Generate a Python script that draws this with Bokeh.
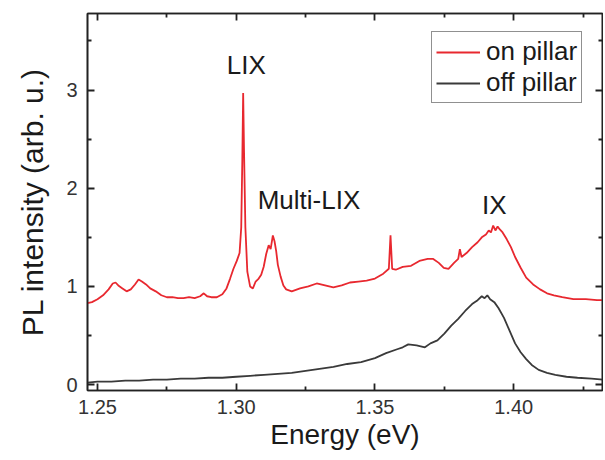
from bokeh.plotting import figure
from bokeh.models import (Range1d, FixedTicker, LinearAxis, Legend, LegendItem,
                          NumeralTickFormatter, ColumnDataSource)
from bokeh.core.properties import value
from bokeh.embed import file_html
from bokeh.resources import INLINE

FONT = "Liberation Sans"

# ---- data ----
on_x = [1.2464, 1.2480, 1.2500, 1.2520, 1.2540, 1.2555, 1.2565, 1.2575, 1.2590, 1.2605,
        1.2620, 1.2635, 1.2648, 1.2660, 1.2675, 1.2690, 1.2710, 1.2730, 1.2750, 1.2770,
        1.2790, 1.2810, 1.2830, 1.2850, 1.2870, 1.2883, 1.2895, 1.2910, 1.2930, 1.2950,
        1.2965, 1.2978, 1.2990, 1.3002, 1.3012, 1.3018, 1.3022, 1.3025, 1.3028, 1.3033,
        1.3040, 1.3050, 1.3060, 1.3070, 1.3081, 1.3090, 1.3099, 1.3108, 1.3117, 1.3124,
        1.3132, 1.3138, 1.3144, 1.3150, 1.3160, 1.3170, 1.3180, 1.3200, 1.3230, 1.3260,
        1.3290, 1.3320, 1.3350, 1.3380, 1.3410, 1.3440, 1.3470, 1.3500, 1.3530, 1.3550,
        1.3556, 1.3562, 1.3575, 1.3600, 1.3630, 1.3660, 1.3690, 1.3710, 1.3730, 1.3748,
        1.3765, 1.3785, 1.3800, 1.3806, 1.3812, 1.3830, 1.3850, 1.3870, 1.3885, 1.3900,
        1.3910, 1.3918, 1.3926, 1.3934, 1.3942, 1.3950, 1.3960, 1.3975, 1.3990, 1.4005,
        1.4025, 1.4045, 1.4070, 1.4095, 1.4120, 1.4145, 1.4175, 1.4215, 1.4260, 1.4300,
        1.4330]
on_y = [0.83, 0.84, 0.87, 0.91, 0.97, 1.03, 1.04, 1.01, 0.98, 0.95,
        0.97, 1.02, 1.07, 1.05, 1.02, 0.98, 0.95, 0.91, 0.89, 0.89,
        0.88, 0.88, 0.89, 0.88, 0.90, 0.93, 0.90, 0.89, 0.89, 0.92,
        0.98, 1.08, 1.18, 1.26, 1.34, 1.60, 2.30, 2.97, 2.40, 1.60,
        1.15, 1.00, 0.98, 1.05, 1.08, 1.12, 1.20, 1.33, 1.42, 1.38,
        1.52, 1.46, 1.36, 1.22, 1.10, 1.01, 0.97, 0.95, 0.98, 1.00,
        1.03, 1.01, 0.99, 1.01, 1.04, 1.05, 1.06, 1.08, 1.13, 1.18,
        1.52, 1.18, 1.17, 1.20, 1.21, 1.26, 1.28, 1.28, 1.24, 1.19,
        1.18, 1.24, 1.28, 1.38, 1.30, 1.34, 1.40, 1.45, 1.50, 1.53,
        1.57, 1.55, 1.62, 1.57, 1.61, 1.58, 1.55, 1.48, 1.40, 1.30,
        1.19, 1.09, 1.02, 0.97, 0.93, 0.91, 0.89, 0.87, 0.87, 0.86,
        0.86]

off_x = [1.2464, 1.2500, 1.2550, 1.2600, 1.2650, 1.2700, 1.2750, 1.2800, 1.2850, 1.2900,
         1.2950, 1.3000, 1.3050, 1.3100, 1.3150, 1.3200, 1.3250, 1.3300, 1.3350, 1.3400,
         1.3450, 1.3500, 1.3540, 1.3580, 1.3600, 1.3620, 1.3650, 1.3680, 1.3700, 1.3725,
         1.3750, 1.3775, 1.3800, 1.3825, 1.3850, 1.3870, 1.3885, 1.3895, 1.3905, 1.3915,
         1.3930, 1.3945, 1.3965, 1.3985, 1.4005, 1.4025, 1.4045, 1.4065, 1.4090, 1.4120,
         1.4150, 1.4190, 1.4230, 1.4280, 1.4330]
off_y = [0.02, 0.03, 0.03, 0.04, 0.04, 0.05, 0.05, 0.06, 0.06, 0.07,
         0.07, 0.08, 0.09, 0.10, 0.11, 0.12, 0.14, 0.16, 0.18, 0.21,
         0.23, 0.27, 0.32, 0.36, 0.38, 0.41, 0.40, 0.38, 0.42, 0.45,
         0.52, 0.60, 0.67, 0.75, 0.82, 0.86, 0.90, 0.88, 0.91, 0.87,
         0.84, 0.78, 0.68, 0.55, 0.42, 0.33, 0.26, 0.20, 0.15, 0.12,
         0.10, 0.08, 0.07, 0.06, 0.05]

series_labels = ["on pillar", "off pillar"]
series_colors = ["#e8282f", "#3a3a3a"]

ann_x = [1.3036, 1.3262, 1.3930]
ann_y = [3.26, 1.88, 1.83]
ann_text = ["LIX", "Multi-LIX", "IX"]

x_ticks = [1.25, 1.30, 1.35, 1.40]
x_minor = [1.275, 1.325, 1.375, 1.425]
y_ticks = [0, 1, 2, 3]
y_minor = [0.5, 1.5, 2.5, 3.5]

# ---- figure ----
p = figure(width=603, height=458, output_backend="svg", toolbar_location=None,
           x_range=Range1d(1.2464, 1.432), y_range=Range1d(-0.06, 3.78),
           min_border_left=87, min_border_right=1, min_border_top=13,
           min_border_bottom=68)
p.grid.visible = False
p.outline_line_color = "#222222"
p.outline_line_width = 1.6
p.background_fill_color = "white"
p.border_fill_color = "white"

r_on = p.line(on_x, on_y, line_color=series_colors[0], line_width=1.8)
r_off = p.line(off_x, off_y, line_color=series_colors[1], line_width=1.8)

src = ColumnDataSource(dict(x=ann_x, y=ann_y, t=ann_text))
p.text(x="x", y="y", text="t", source=src, text_align="center",
       text_baseline="middle", text_font=value(FONT), text_font_size="26px",
       text_color="#1a1a1a")


def style_axis(ax, show_labels):
    ax.major_tick_in = 7
    ax.major_tick_out = 0
    ax.minor_tick_in = 4
    ax.minor_tick_out = 0
    ax.axis_line_color = "#222222"
    ax.axis_line_width = 1.6
    ax.major_tick_line_color = "#222222"
    ax.minor_tick_line_color = "#222222"
    ax.major_tick_line_width = 1.8
    ax.minor_tick_line_width = 1.8
    if show_labels:
        ax.major_label_text_font = FONT
        ax.major_label_text_font_size = "20px"
        ax.major_label_text_color = "#333333"
        ax.axis_label_text_font = FONT
        ax.axis_label_text_font_style = "normal"
        ax.axis_label_text_color = "#1a1a1a"
    else:
        ax.major_label_text_font_size = "0px"
        ax.major_label_text_color = None
        ax.major_label_standoff = 0


p.xaxis.ticker = FixedTicker(ticks=x_ticks, minor_ticks=x_minor)
p.xaxis.formatter = NumeralTickFormatter(format="0.00")
p.xaxis.axis_label = "Energy (eV)"
style_axis(p.xaxis[0], True)
p.xaxis.axis_label_text_font_size = "28px"
p.xaxis.major_label_standoff = 9
p.xaxis.axis_label_standoff = 2

p.yaxis.ticker = FixedTicker(ticks=y_ticks, minor_ticks=y_minor)
p.yaxis.formatter = NumeralTickFormatter(format="0")
p.yaxis.axis_label = "PL intensity (arb. u.)"
style_axis(p.yaxis[0], True)
p.yaxis.axis_label_text_font_size = "30px"
p.yaxis.major_label_standoff = 10
p.yaxis.axis_label_standoff = 14

top = LinearAxis(ticker=FixedTicker(ticks=x_ticks, minor_ticks=x_minor))
style_axis(top, False)
p.add_layout(top, "above")
right = LinearAxis(ticker=FixedTicker(ticks=y_ticks, minor_ticks=y_minor))
style_axis(right, False)
p.add_layout(right, "right")

legend = Legend(items=[LegendItem(label=series_labels[0], renderers=[r_on]),
                       LegendItem(label=series_labels[1], renderers=[r_off])],
                location=(344, 287))
legend.label_text_font = FONT
legend.label_text_font_size = "26px"
legend.label_text_color = "#1a1a1a"
legend.glyph_width = 44
legend.glyph_height = 20
legend.label_height = 20
legend.label_standoff = 6
legend.spacing = 0
legend.padding = 4
legend.margin = 0
legend.border_line_color = "#222222"
legend.border_line_width = 1.6
legend.background_fill_color = "white"
legend.background_fill_alpha = 1.0
p.add_layout(legend, "center")

open("out.html", "w").write(file_html(p, INLINE))
